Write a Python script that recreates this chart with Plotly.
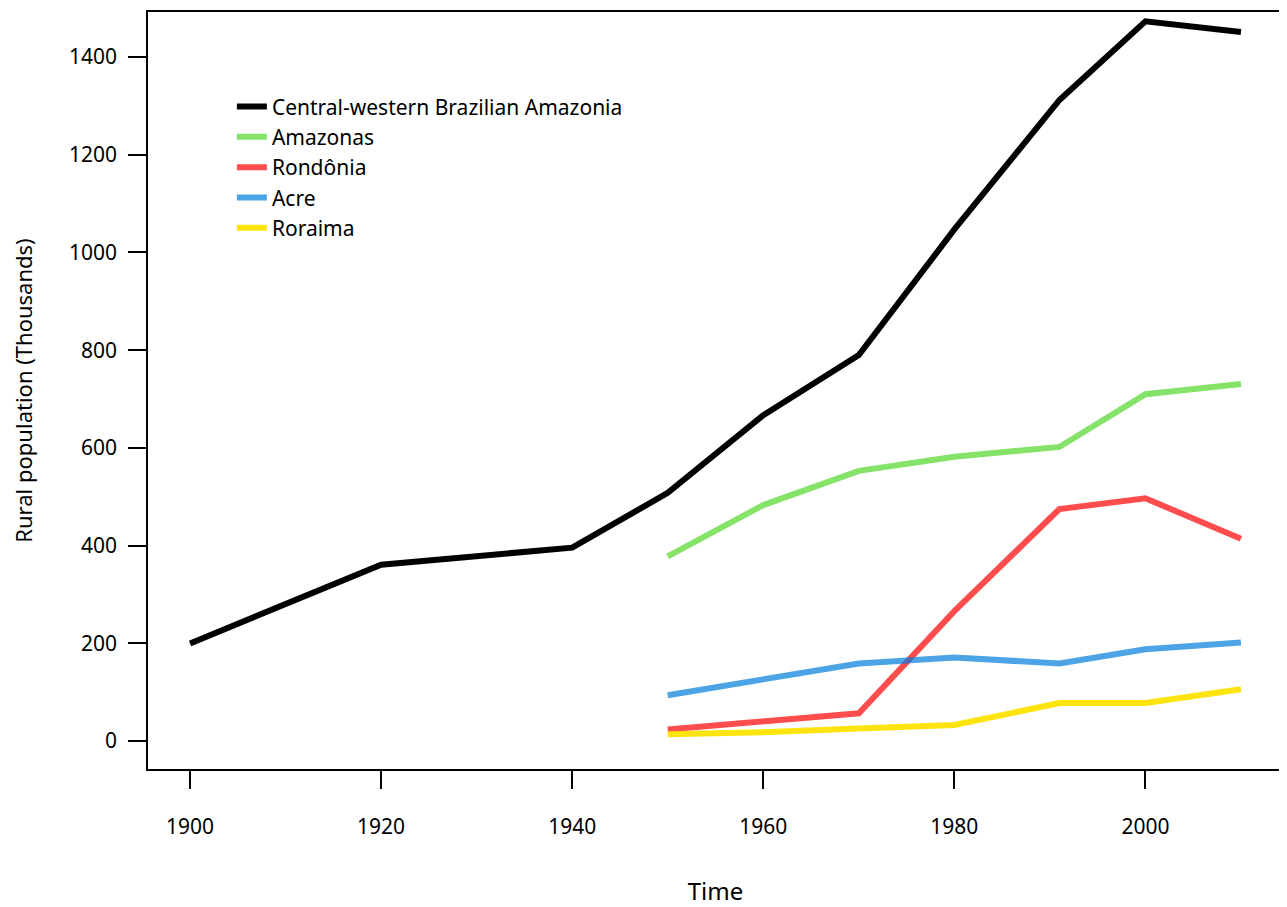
import plotly.graph_objects as go

years_central = [1900, 1920, 1940, 1950, 1960, 1970, 1980, 1991, 2000, 2010]
central = [200, 361, 396, 508, 667, 790, 1047, 1312, 1473, 1451]

years_states = [1950, 1960, 1970, 1980, 1991, 2000, 2010]
amazonas = [378, 483, 553, 582, 602, 710, 731]
rondonia = [24, 40, 57, 266, 475, 497, 414]
acre = [94, 127, 159, 171, 159, 188, 202]
roraima = [14, 18, 26, 33, 78, 78, 106]

x_ticks = [1900, 1920, 1940, 1960, 1980, 2000]
y_ticks = [0, 200, 400, 600, 800, 1000, 1200, 1400]

series = [
    ("Central-western Brazilian Amazonia", years_central, central, "rgb(0,0,0)"),
    ("Amazonas", years_states, amazonas, "rgba(80,215,40,0.7)"),
    ("Rondônia", years_states, rondonia, "rgba(255,0,0,0.7)"),
    ("Acre", years_states, acre, "rgba(0,125,220,0.7)"),
    ("Roraima", years_states, roraima, "rgba(255,225,0,0.95)"),
]

fig = go.Figure()
for name, xs, ys, col in series:
    fig.add_trace(go.Scatter(x=xs, y=ys, mode="lines", name=name,
                             line=dict(color=col, width=6)))

font = "Noto Sans, Open Sans, sans-serif"
fig.update_layout(
    width=1279, height=899,
    paper_bgcolor="white", plot_bgcolor="white",
    margin=dict(l=140, r=2, t=3, b=138),
    font=dict(family=font, size=21, color="black"),
    showlegend=True,
    legend=dict(x=0.0739, y=0.9017, xanchor="left", yanchor="top",
                bgcolor="rgba(0,0,0,0)", font=dict(size=21),
                tracegroupgap=0, itemwidth=30),
    xaxis=dict(range=[1895.6, 2014.4], tickvals=x_ticks,
               ticktext=[str(v) for v in x_ticks],
               showgrid=False, zeroline=False,
               showline=True, linecolor="black", linewidth=1.5, mirror=True,
               ticks="outside", ticklen=18, tickwidth=1.5, tickcolor="black",
               tickfont=dict(size=21), ticklabelstandoff=20,
               title=dict(text="Time", font=dict(size=24), standoff=46)),
    yaxis=dict(range=[-57, 1492], tickvals=y_ticks,
               ticktext=[str(v) for v in y_ticks],
               showgrid=False, zeroline=False,
               showline=True, linecolor="black", linewidth=1.5, mirror=True,
               ticks="outside", ticklen=18, tickwidth=1.5, tickcolor="black",
               tickfont=dict(size=21), ticklabelstandoff=7,
               title=dict(text="Rural population (Thousands)", font=dict(size=22), standoff=34)),
)

fig.write_html("out.html")
